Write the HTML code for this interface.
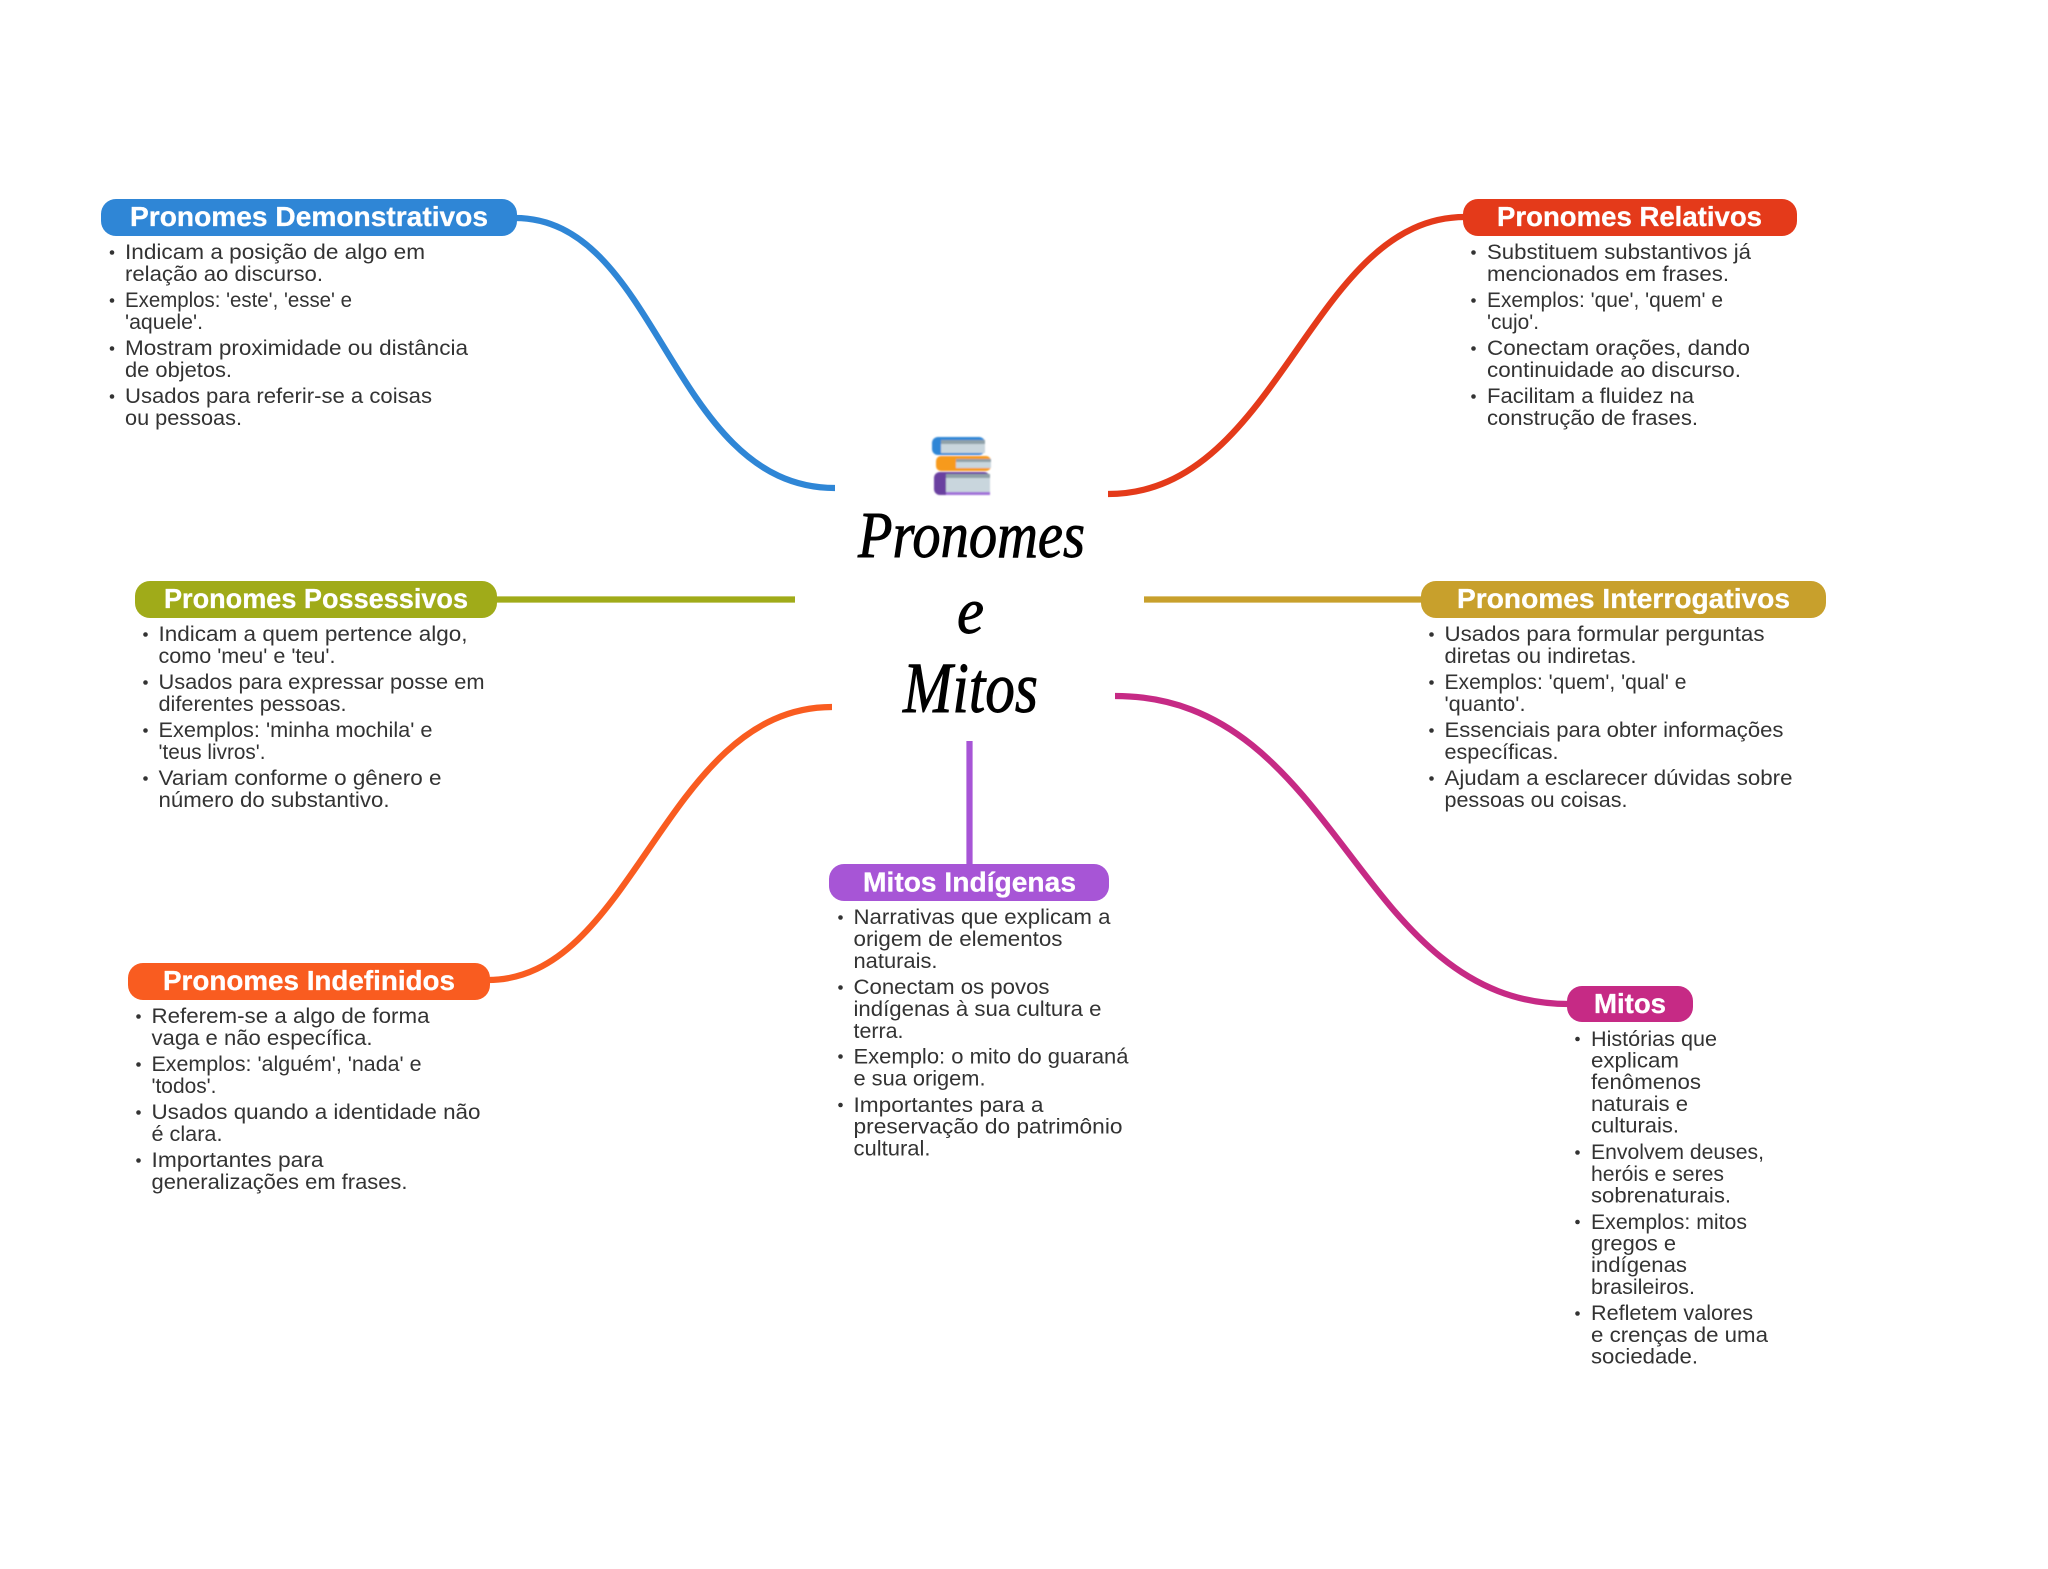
<!DOCTYPE html>
<html lang="pt"><head><meta charset="utf-8"><title>Pronomes e Mitos</title>
<style>
html,body{margin:0;padding:0;background:#fff;width:2048px;height:1569px;overflow:hidden}
svg{display:block}
.b text{font-family:"Liberation Sans",sans-serif;font-size:21px;fill:#333;}
.t{font-family:"Liberation Sans",sans-serif;font-size:28px;font-weight:700;fill:#fff;stroke:#fff;stroke-width:.3}
.s{font-family:"Liberation Serif",serif;font-style:italic;font-size:66px;fill:#000;stroke:#000;stroke-width:.9}
path.c{fill:none;stroke-width:6.2}
</style></head><body>
<svg xmlns="http://www.w3.org/2000/svg" width="2048" height="1569" viewBox="0 0 2048 1569">
<defs><filter id="bl" x="-10%" y="-10%" width="120%" height="120%"><feGaussianBlur stdDeviation="0.8"/></filter></defs>
<rect width="2048" height="1569" fill="#fff"/>

<!-- connectors -->
<path class="c" stroke="#2f86d6" d="M515 218C660 218 670 488 835 488"/>
<path class="c" stroke="#e43a1a" d="M1108 494C1280 494 1310 217 1465 217"/>
<path class="c" stroke="#a0ab19" d="M495 599.500H795"/>
<path class="c" stroke="#c8a02c" d="M1144 599.500H1423"/>
<path class="c" stroke="#a755d6" d="M969.500 741V866"/>
<path class="c" stroke="#f95c20" d="M488 980C635 980 665 707 832 707"/>
<path class="c" stroke="#c62a85" d="M1115 696C1340 696 1355 1004 1569 1004"/>

<!-- books icon -->
<g filter="url(#bl)">
<rect x="932" y="437" width="53" height="18" rx="6" fill="#2f86d6"/>
<rect x="941" y="440" width="44" height="13" fill="#c9d6dd"/>
<rect x="941" y="440" width="44" height="4" fill="#8fa0a8"/>
<rect x="936" y="456" width="55" height="15" rx="5" fill="#f79a1c"/>
<rect x="956" y="459" width="35" height="9" fill="#c9d6dd"/>
<rect x="956" y="459" width="35" height="3" fill="#8fa0a8"/>
<rect x="934" y="472" width="56" height="23" rx="6" fill="#6a3fa0"/>
<rect x="946" y="474" width="44" height="18" fill="#c9d6dd"/>
<rect x="946" y="474" width="44" height="4" fill="#8fa0a8"/>
<rect x="946" y="492" width="44" height="3" fill="#a070d8"/>
</g>

<!-- central title -->
<text class="s" x="858" y="557" textLength="227" lengthAdjust="spacingAndGlyphs">Pronomes</text>
<text class="s" x="957" y="633" textLength="27" lengthAdjust="spacingAndGlyphs">e</text>
<text class="s" x="903" y="712" font-size="72" style="font-size:72px" textLength="135" lengthAdjust="spacingAndGlyphs">Mitos</text>

<!-- pills -->
<rect x="101" y="199" width="416" height="37" rx="15" fill="#2f86d6"/>
<text class="t" x="130" y="226" textLength="358" lengthAdjust="spacingAndGlyphs">Pronomes Demonstrativos</text>
<rect x="1463" y="199" width="334" height="37" rx="15" fill="#e43a1a"/>
<text class="t" x="1497" y="226" textLength="265" lengthAdjust="spacingAndGlyphs">Pronomes Relativos</text>
<rect x="135" y="581" width="362" height="37" rx="15" fill="#a0ab19"/>
<text class="t" x="164" y="608" textLength="304" lengthAdjust="spacingAndGlyphs">Pronomes Possessivos</text>
<rect x="1421" y="581" width="405" height="37" rx="15" fill="#c8a02c"/>
<text class="t" x="1457" y="608" textLength="333" lengthAdjust="spacingAndGlyphs">Pronomes Interrogativos</text>
<rect x="128" y="963" width="362" height="37" rx="15" fill="#f95c20"/>
<text class="t" x="163" y="990" textLength="292" lengthAdjust="spacingAndGlyphs">Pronomes Indefinidos</text>
<rect x="829" y="864" width="280" height="37" rx="15" fill="#a755d6"/>
<text class="t" x="863" y="891.500" textLength="213" lengthAdjust="spacingAndGlyphs">Mitos Indígenas</text>
<rect x="1567" y="986" width="126" height="36" rx="15" fill="#c62a85"/>
<text class="t" x="1594" y="1013" textLength="72" lengthAdjust="spacingAndGlyphs">Mitos</text>

<!-- Demonstrativos -->
<g class="b" fill="#333">
<circle cx="112" cy="252.500" r="2.300"/><circle cx="112" cy="300.500" r="2.300"/><circle cx="112" cy="348.500" r="2.300"/><circle cx="112" cy="396.500" r="2.300"/>
<text x="125" y="259" textLength="300" lengthAdjust="spacingAndGlyphs">Indicam a posição de algo em</text>
<text x="125" y="281" textLength="198" lengthAdjust="spacingAndGlyphs">relação ao discurso.</text>
<text x="125" y="307" textLength="227" lengthAdjust="spacingAndGlyphs">Exemplos: 'este', 'esse' e</text>
<text x="125" y="329" textLength="78" lengthAdjust="spacingAndGlyphs">'aquele'.</text>
<text x="125" y="355" textLength="343" lengthAdjust="spacingAndGlyphs">Mostram proximidade ou distância</text>
<text x="125" y="377" textLength="107" lengthAdjust="spacingAndGlyphs">de objetos.</text>
<text x="125" y="403" textLength="307" lengthAdjust="spacingAndGlyphs">Usados para referir-se a coisas</text>
<text x="125" y="425" textLength="117" lengthAdjust="spacingAndGlyphs">ou pessoas.</text>
</g>

<!-- Relativos -->
<g class="b" fill="#333">
<circle cx="1473.500" cy="252.500" r="2.300"/><circle cx="1473.500" cy="300.500" r="2.300"/><circle cx="1473.500" cy="348.500" r="2.300"/><circle cx="1473.500" cy="396.500" r="2.300"/>
<text x="1487" y="259" textLength="264" lengthAdjust="spacingAndGlyphs">Substituem substantivos já</text>
<text x="1487" y="281" textLength="242" lengthAdjust="spacingAndGlyphs">mencionados em frases.</text>
<text x="1487" y="307" textLength="236" lengthAdjust="spacingAndGlyphs">Exemplos: 'que', 'quem' e</text>
<text x="1487" y="329" textLength="52" lengthAdjust="spacingAndGlyphs">'cujo'.</text>
<text x="1487" y="355" textLength="263" lengthAdjust="spacingAndGlyphs">Conectam orações, dando</text>
<text x="1487" y="377" textLength="254" lengthAdjust="spacingAndGlyphs">continuidade ao discurso.</text>
<text x="1487" y="403" textLength="207" lengthAdjust="spacingAndGlyphs">Facilitam a fluidez na</text>
<text x="1487" y="425" textLength="211" lengthAdjust="spacingAndGlyphs">construção de frases.</text>
</g>

<!-- Possessivos -->
<g class="b" fill="#333">
<circle cx="145.500" cy="634.500" r="2.300"/><circle cx="145.500" cy="682.500" r="2.300"/><circle cx="145.500" cy="730.500" r="2.300"/><circle cx="145.500" cy="778.500" r="2.300"/>
<text x="158.500" y="641" textLength="309" lengthAdjust="spacingAndGlyphs">Indicam a quem pertence algo,</text>
<text x="158.500" y="663" textLength="177" lengthAdjust="spacingAndGlyphs">como 'meu' e 'teu'.</text>
<text x="158.500" y="689" textLength="326" lengthAdjust="spacingAndGlyphs">Usados para expressar posse em</text>
<text x="158.500" y="711" textLength="188" lengthAdjust="spacingAndGlyphs">diferentes pessoas.</text>
<text x="158.500" y="737" textLength="274" lengthAdjust="spacingAndGlyphs">Exemplos: 'minha mochila' e</text>
<text x="158.500" y="759" textLength="107" lengthAdjust="spacingAndGlyphs">'teus livros'.</text>
<text x="158.500" y="785" textLength="283" lengthAdjust="spacingAndGlyphs">Variam conforme o gênero e</text>
<text x="158.500" y="807" textLength="231" lengthAdjust="spacingAndGlyphs">número do substantivo.</text>
</g>

<!-- Interrogativos -->
<g class="b" fill="#333">
<circle cx="1431.500" cy="634.500" r="2.300"/><circle cx="1431.500" cy="682.500" r="2.300"/><circle cx="1431.500" cy="730.500" r="2.300"/><circle cx="1431.500" cy="778.500" r="2.300"/>
<text x="1444.500" y="641" textLength="320" lengthAdjust="spacingAndGlyphs">Usados para formular perguntas</text>
<text x="1444.500" y="663" textLength="192" lengthAdjust="spacingAndGlyphs">diretas ou indiretas.</text>
<text x="1444.500" y="689" textLength="242" lengthAdjust="spacingAndGlyphs">Exemplos: 'quem', 'qual' e</text>
<text x="1444.500" y="711" textLength="81" lengthAdjust="spacingAndGlyphs">'quanto'.</text>
<text x="1444.500" y="737" textLength="339" lengthAdjust="spacingAndGlyphs">Essenciais para obter informações</text>
<text x="1444.500" y="759" textLength="114" lengthAdjust="spacingAndGlyphs">específicas.</text>
<text x="1444.500" y="785" textLength="348" lengthAdjust="spacingAndGlyphs">Ajudam a esclarecer dúvidas sobre</text>
<text x="1444.500" y="807" textLength="183" lengthAdjust="spacingAndGlyphs">pessoas ou coisas.</text>
</g>

<!-- Indefinidos -->
<g class="b" fill="#333">
<circle cx="138.500" cy="1016.500" r="2.300"/><circle cx="138.500" cy="1064.500" r="2.300"/><circle cx="138.500" cy="1112.500" r="2.300"/><circle cx="138.500" cy="1160.500" r="2.300"/>
<text x="151.500" y="1023" textLength="278" lengthAdjust="spacingAndGlyphs">Referem-se a algo de forma</text>
<text x="151.500" y="1045" textLength="221" lengthAdjust="spacingAndGlyphs">vaga e não específica.</text>
<text x="151.500" y="1071" textLength="270" lengthAdjust="spacingAndGlyphs">Exemplos: 'alguém', 'nada' e</text>
<text x="151.500" y="1093" textLength="65" lengthAdjust="spacingAndGlyphs">'todos'.</text>
<text x="151.500" y="1119" textLength="329" lengthAdjust="spacingAndGlyphs">Usados quando a identidade não</text>
<text x="151.500" y="1141" textLength="71" lengthAdjust="spacingAndGlyphs">é clara.</text>
<text x="151.500" y="1167" textLength="172" lengthAdjust="spacingAndGlyphs">Importantes para</text>
<text x="151.500" y="1189" textLength="256" lengthAdjust="spacingAndGlyphs">generalizações em frases.</text>
</g>

<!-- Indígenas -->
<g class="b" fill="#333">
<circle cx="840.500" cy="917.500" r="2.300"/><circle cx="840.500" cy="987.500" r="2.300"/><circle cx="840.500" cy="1056.500" r="2.300"/><circle cx="840.500" cy="1105" r="2.300"/>
<text x="853.500" y="924" textLength="257" lengthAdjust="spacingAndGlyphs">Narrativas que explicam a</text>
<text x="853.500" y="946" textLength="209" lengthAdjust="spacingAndGlyphs">origem de elementos</text>
<text x="853.500" y="968" textLength="84" lengthAdjust="spacingAndGlyphs">naturais.</text>
<text x="853.500" y="994" textLength="196" lengthAdjust="spacingAndGlyphs">Conectam os povos</text>
<text x="853.500" y="1016" textLength="248" lengthAdjust="spacingAndGlyphs">indígenas à sua cultura e</text>
<text x="853.500" y="1038" textLength="50" lengthAdjust="spacingAndGlyphs">terra.</text>
<text x="853.500" y="1063.500" textLength="275" lengthAdjust="spacingAndGlyphs">Exemplo: o mito do guaraná</text>
<text x="853.500" y="1085.500" textLength="132" lengthAdjust="spacingAndGlyphs">e sua origem.</text>
<text x="853.500" y="1112" textLength="190" lengthAdjust="spacingAndGlyphs">Importantes para a</text>
<text x="853.500" y="1133.500" textLength="269" lengthAdjust="spacingAndGlyphs">preservação do patrimônio</text>
<text x="853.500" y="1155.500" textLength="77" lengthAdjust="spacingAndGlyphs">cultural.</text>
</g>

<!-- Mitos -->
<g class="b" fill="#333">
<circle cx="1577.500" cy="1039" r="2.300"/><circle cx="1577.500" cy="1152.500" r="2.300"/><circle cx="1577.500" cy="1222" r="2.300"/><circle cx="1577.500" cy="1313.500" r="2.300"/>
<text x="1591" y="1046" textLength="126" lengthAdjust="spacingAndGlyphs">Histórias que</text>
<text x="1591" y="1067.500" textLength="88" lengthAdjust="spacingAndGlyphs">explicam</text>
<text x="1591" y="1089" textLength="110" lengthAdjust="spacingAndGlyphs">fenômenos</text>
<text x="1591" y="1111" textLength="97" lengthAdjust="spacingAndGlyphs">naturais e</text>
<text x="1591" y="1132.500" textLength="88" lengthAdjust="spacingAndGlyphs">culturais.</text>
<text x="1591" y="1159" textLength="173" lengthAdjust="spacingAndGlyphs">Envolvem deuses,</text>
<text x="1591" y="1181" textLength="133" lengthAdjust="spacingAndGlyphs">heróis e seres</text>
<text x="1591" y="1202.500" textLength="140" lengthAdjust="spacingAndGlyphs">sobrenaturais.</text>
<text x="1591" y="1229" textLength="156" lengthAdjust="spacingAndGlyphs">Exemplos: mitos</text>
<text x="1591" y="1250.500" textLength="85" lengthAdjust="spacingAndGlyphs">gregos e</text>
<text x="1591" y="1272" textLength="96" lengthAdjust="spacingAndGlyphs">indígenas</text>
<text x="1591" y="1294" textLength="104" lengthAdjust="spacingAndGlyphs">brasileiros.</text>
<text x="1591" y="1320" textLength="162" lengthAdjust="spacingAndGlyphs">Refletem valores</text>
<text x="1591" y="1342" textLength="177" lengthAdjust="spacingAndGlyphs">e crenças de uma</text>
<text x="1591" y="1363.500" textLength="107" lengthAdjust="spacingAndGlyphs">sociedade.</text>
</g>
</svg>
</body></html>
